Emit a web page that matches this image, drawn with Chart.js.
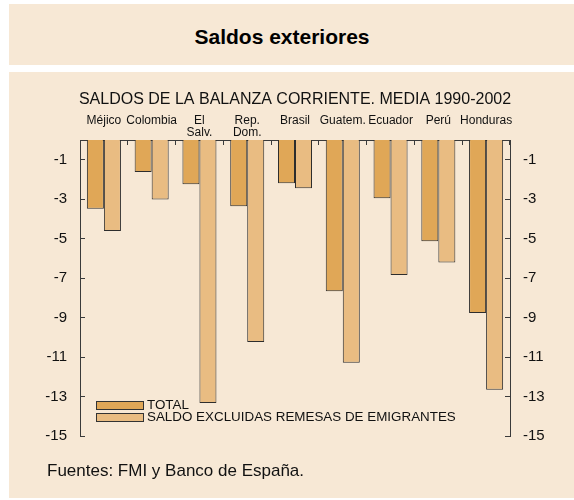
<!DOCTYPE html>
<html>
<head>
<meta charset="utf-8">
<script src="https://cdn.jsdelivr.net/npm/chart.js@4.4.1/dist/chart.umd.min.js"></script>
<style>
  html, body { margin: 0; padding: 0; background: #ffffff; }
  body { width: 574px; height: 500px; position: relative; overflow: hidden; font-family: "Liberation Sans", Arial, sans-serif; }
  .panel { position: absolute; background: #F7E8D5; }
  #top { left: 9px; top: 4px; width: 565px; height: 61px; }
  #main { left: 9px; top: 72px; width: 565px; height: 426px; }
  #title { position: absolute; left: 0; width: 564px; top: 25px; text-align: center; font-weight: bold; font-size: 21px; line-height: 24px; color: #000; }
  #footer { position: absolute; left: 47px; top: 461px; font-size: 17px; line-height: 20px; color: #111; }
  #chart { position: absolute; left: 0; top: 0; }
</style>
</head>
<body>
<div id="top" class="panel"></div>
<div id="title">Saldos exteriores</div>
<div id="main" class="panel"><canvas id="chart" width="565" height="426"></canvas></div>
<div id="footer">Fuentes: FMI y Banco de España.</div>
<script>
const chartTitle = "SALDOS DE LA BALANZA CORRIENTE. MEDIA 1990-2002";
const categories = [["Méjico",""],["Colombia",""],["El","Salv."],["Rep.","Dom."],["Brasil",""],["Guatem.",""],["Ecuador",""],["Perú",""],["Honduras",""]];
const seriesNames = ["TOTAL", "SALDO EXCLUIDAS REMESAS DE EMIGRANTES"];
const totalValues = [-3.49, -1.62, -2.24, -3.36, -2.19, -7.66, -2.95, -5.13, -8.77];
const saldoValues = [-4.61, -3.02, -13.33, -10.24, -2.45, -11.29, -6.84, -6.21, -12.66];
const yTickValues = [-1, -3, -5, -7, -9, -11, -13, -15];
const yTickLabels = ["-1", "-3", "-5", "-7", "-9", "-11", "-13", "-15"];

const colTotal = "#E0A757";
const colSaldo = "#E9BC82";
const axisCol = "#3a3a3a";
const FONT = "'Liberation Sans', Arial, sans-serif";

const overlay = {
  id: 'overlay',
  afterDatasetsDraw(chart) {
    const ctx = chart.ctx;
    const ca = chart.chartArea;
    ctx.save();
    ctx.fillStyle = '#111';
    ctx.font = "16px " + FONT;
    ctx.textAlign = 'center';
    ctx.textBaseline = 'middle';
    ctx.fillText(chartTitle, (ca.left + ca.right) / 2, ca.top - 40);
    const cols = [colTotal, colSaldo];
    const x0 = ca.left + 16;
    const ys = [ca.bottom - 35, ca.bottom - 23];
    ctx.font = "13.4px " + FONT;
    ctx.textAlign = 'left';
    for (let i = 0; i < 2; i++) {
      ctx.fillStyle = cols[i];
      ctx.fillRect(x0, ys[i], 47, 8);
      ctx.strokeStyle = '#333';
      ctx.lineWidth = 1;
      ctx.strokeRect(x0 + 0.5, ys[i] + 0.5, 47, 8);
      ctx.fillStyle = '#111';
      ctx.fillText(seriesNames[i], x0 + 51, ys[i] + 4);
    }
    ctx.restore();
  }
};

const yCommon = (pos, w) => ({
  type: 'linear',
  position: pos,
  min: -15,
  max: 0,
  afterBuildTicks: (s) => { s.ticks = yTickValues.map(v => ({ value: v })); },
  afterFit: (s) => { s.width = w; },
  ticks: {
    padding: 18,
    color: '#111',
    font: { family: FONT, size: 15 },
    callback: (v) => { const i = yTickValues.indexOf(v); return i >= 0 ? yTickLabels[i] : ''; }
  },
  grid: { drawOnChartArea: false, drawTicks: true, tickLength: -5, color: axisCol, lineWidth: 1 },
  border: { display: true, color: axisCol, width: 1 }
});

new Chart(document.getElementById('chart'), {
  type: 'bar',
  data: {
    labels: categories,
    datasets: [
      { label: seriesNames[0], data: totalValues, backgroundColor: colTotal, borderColor: '#2d2d2d', borderWidth: 1, yAxisID: 'y' },
      { label: seriesNames[1], data: saldoValues, backgroundColor: colSaldo, borderColor: '#2d2d2d', borderWidth: 1, yAxisID: 'y' }
    ]
  },
  options: {
    responsive: false,
    animation: false,
    devicePixelRatio: 1,
    layout: { padding: { left: 0, right: 0, top: 0, bottom: 62 } },
    datasets: { bar: { categoryPercentage: 0.712, barPercentage: 1.0 } },
    plugins: { legend: { display: false }, title: { display: false }, tooltip: { enabled: false } },
    scales: {
      x: {
        type: 'category',
        position: 'top',
        offset: true,
        afterFit: (s) => { s.height = 68; },
        ticks: { padding: 6, maxRotation: 0, autoSkip: false, color: '#111', font: { family: FONT, size: 12, lineHeight: 1.0 } },
        grid: { offset: true, drawOnChartArea: false, drawTicks: true, tickLength: -5, color: axisCol, lineWidth: 1 },
        border: { display: true, color: axisCol, width: 1 }
      },
      y: yCommon('left', 71),
      y2: yCommon('right', 64)
    }
  },
  plugins: [overlay]
});
</script>
</body>
</html>
